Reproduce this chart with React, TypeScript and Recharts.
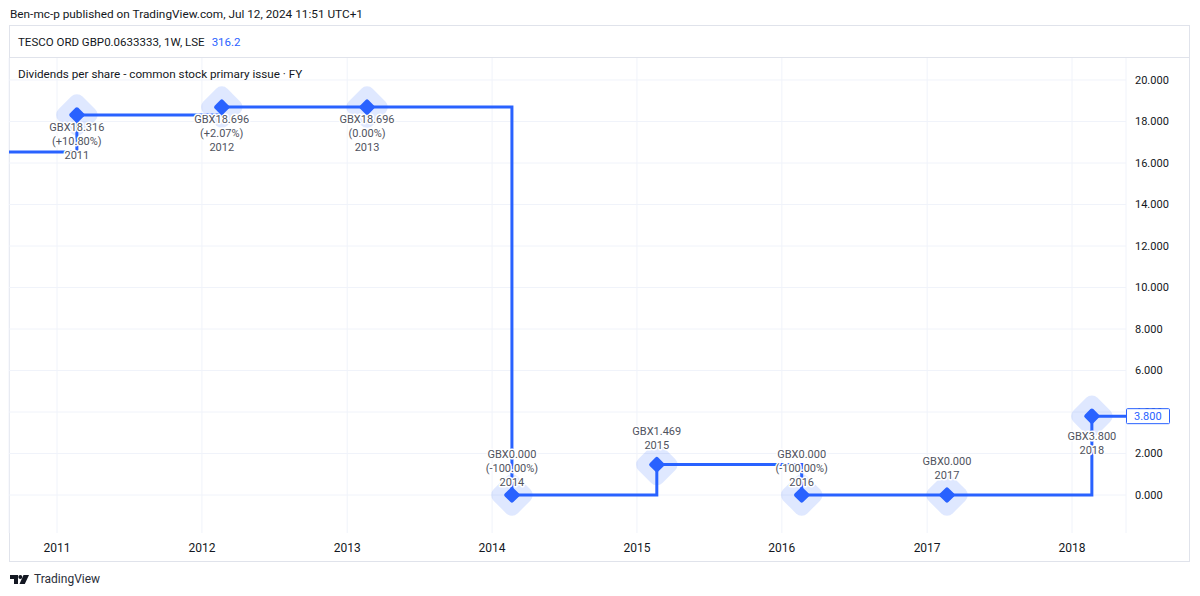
import React from 'react';
import { ComposedChart, Line, XAxis, YAxis, CartesianGrid } from 'recharts';

// ---- data ----
const fiscalYears = [2011, 2012, 2013, 2014, 2015, 2016, 2017, 2018];
const fiscalYearEndDates = ['2011-02-20', '2012-02-20', '2013-02-20', '2014-02-20', '2015-02-20', '2016-02-20', '2017-02-20', '2018-02-20'];
const dividendsGBX = [18.316, 18.696, 18.696, 0.0, 1.469, 0.0, 0.0, 3.8];
const priorYearDate = '2010-02-20';
const priorYearDividend = 16.531;
const asOfDate = '2024-07-12';
const yTicks = [0, 2, 4, 6, 8, 10, 12, 14, 16, 18, 20];
const xTickYears = [2011, 2012, 2013, 2014, 2015, 2016, 2017, 2018];
const xDomainDates = ['2010-09-02', '2018-05-17'];
const yDomain = [-1.83, 21.06];

const headerText = 'Ben-mc-p published on TradingView.com, Jul 12, 2024 11:51 UTC+1';
const symbolText = 'TESCO ORD GBP0.0633333, 1W, LSE';
const lastPriceText = '316.2';
const paneTitle = 'Dividends per share - common stock primary issue · FY';

// ---- derived ----
const ts = (d: string) => Date.parse(d + 'T00:00:00Z');
const FONT = 'Roboto, "Noto Sans", sans-serif';
const BLUE = '#2962ff';

const pointData = dividendsGBX.map((v, i) => {
  const prev = i === 0 ? priorYearDividend : dividendsGBX[i - 1];
  const lines = ['GBX' + v.toFixed(3)];
  if (prev !== 0) {
    const pct = (v / prev - 1) * 100;
    lines.push('(' + (pct > 0 ? '+' : '') + pct.toFixed(2) + '%)');
  }
  lines.push(String(fiscalYears[i]));
  return { t: ts(fiscalYearEndDates[i]), v, lines, below: v > 2 };
});

const lineData = [
  { t: ts(priorYearDate), v: priorYearDividend },
  ...pointData.map((p) => ({ t: p.t, v: p.v })),
  { t: ts(asOfDate), v: dividendsGBX[dividendsGBX.length - 1] },
];

const lastValue = dividendsGBX[dividendsGBX.length - 1];
const axisTicks = [...yTicks, lastValue];

const Halo = (props: any) => {
  const { cx, cy } = props;
  if (cx == null || cy == null) return <g />;
  return (
    <rect x={cx - 17} y={cy - 17} width={34} height={34} rx={8} ry={8}
      transform={`rotate(45 ${cx} ${cy})`} fill={BLUE} fillOpacity={0.15} />
  );
};

const Marker = (props: any) => {
  const { cx, cy, payload } = props;
  if (cx == null || cy == null) return <g />;
  const lines: string[] = payload.lines;
  const lh = 14;
  const center = cy + (payload.below ? 26.5 : -26.5);
  const startY = center - ((lines.length - 1) * lh) / 2;
  return (
    <g>
      {lines.map((s, k) => (
        <text key={k} x={cx} y={startY + k * lh} dy="0.35em" textAnchor="middle"
          fontFamily={FONT} fontSize={11} fill="#50535e" stroke="#ffffff" strokeWidth={3}
          strokeLinejoin="round" style={{ paintOrder: 'stroke' }}>{s}</text>
      ))}
      <rect x={cx - 6} y={cy - 6} width={12} height={12} rx={2} ry={2}
        transform={`rotate(45 ${cx} ${cy})`} fill={BLUE} />
    </g>
  );
};

const XTick = (props: any) => {
  const { x, y, payload } = props;
  return (
    <text x={x} y={y} dy={18.5} textAnchor="middle" fontFamily={FONT} fontSize={12} fill="#131722">
      {new Date(payload.value).getUTCFullYear()}
    </text>
  );
};

const YTick = (props: any) => {
  const { x, y, payload, index } = props;
  if (index === yTicks.length) {
    return (
      <g>
        <rect x={x + 0.5} y={y - 7.5} width={43} height={15} fill="#ffffff" stroke={BLUE} strokeWidth={1} rx={1} />
        <text x={x + 8} y={y} dy="0.35em" fontFamily={FONT} fontSize={11} fill={BLUE}>{Number(payload.value).toFixed(3)}</text>
      </g>
    );
  }
  return (
    <text x={x + 9} y={y} dy="0.35em" textAnchor="start" fontFamily={FONT} fontSize={11} fill="#131722">
      {Number(payload.value).toFixed(3)}
    </text>
  );
};

const TVLogo = () => (
  <svg width={19} height={9} viewBox="0 0 19 9" style={{ display: 'block' }}>
    <path d="M0 0h8v9h-4v-5h-4z" fill="#131722" />
    <circle cx={10.3} cy={2} r={2} fill="#131722" />
    <path d="M13.5 0h5.5l-4.2 9h-5.3z" fill="#131722" />
  </svg>
);

export default function App() {
  return (
    <div style={{ position: 'absolute', left: 0, top: 0, width: 1200, height: 596, background: '#ffffff', overflow: 'hidden', fontFamily: FONT }}>
      <div style={{ position: 'absolute', left: 10, top: 6, fontSize: 11.8, color: '#131722', whiteSpace: 'nowrap', lineHeight: '16px' }}>{headerText}</div>
      <div style={{ position: 'absolute', left: 9, top: 25, width: 1179, height: 535, border: '1px solid #e0e3eb' }} />
      <div style={{ position: 'absolute', left: 9, top: 57, width: 1181, height: 1, background: '#e0e3eb' }} />
      <div style={{ position: 'absolute', left: 0, top: 0 }}>
        <ComposedChart width={1200} height={596} margin={{ top: 58, left: 9, right: 11, bottom: 35 }}>
          <CartesianGrid stroke="#f0f3fa" strokeWidth={1} {...({ horizontalValues: yTicks } as any)} />
          <XAxis dataKey="t" type="number" scale="linear" allowDataOverflow
            domain={[ts(xDomainDates[0]), ts(xDomainDates[1])]}
            ticks={xTickYears.map((y) => ts(y + '-01-01'))}
            height={28} axisLine={false} tickLine={false} tickSize={0} tickMargin={0}
            tick={<XTick />} interval={0} />
          <YAxis orientation="right" type="number" allowDataOverflow domain={yDomain}
            ticks={axisTicks} width={63} axisLine={false} tickLine={false} tickSize={0} tickMargin={0}
            tick={<YTick />} interval={0} />
          <Line data={lineData} dataKey="v" type="linear" stroke="none" dot={<Halo />} activeDot={false} isAnimationActive={false} />
          <Line data={lineData} dataKey="v" type="stepAfter" stroke={BLUE} strokeWidth={3} dot={false} activeDot={false} isAnimationActive={false} />
          <Line data={pointData} dataKey="v" type="linear" stroke="none" dot={<Marker />} activeDot={false} isAnimationActive={false} />
        </ComposedChart>
      </div>
      <div style={{ position: 'absolute', left: 18, top: 34, fontSize: 11.5, color: '#131722', whiteSpace: 'nowrap', lineHeight: '16px' }}>
        {symbolText}<span style={{ color: BLUE, marginLeft: 7 }}>{lastPriceText}</span>
      </div>
      <div style={{ position: 'absolute', left: 18, top: 66, fontSize: 11.7, color: '#131722', whiteSpace: 'nowrap', lineHeight: '16px' }}>{paneTitle}</div>
      <div style={{ position: 'absolute', left: 10, top: 572, display: 'flex', alignItems: 'center', gap: 5 }}>
        <TVLogo />
        <span style={{ fontSize: 12, color: '#2a2e39', lineHeight: '14px' }}>TradingView</span>
      </div>
    </div>
  );
}
